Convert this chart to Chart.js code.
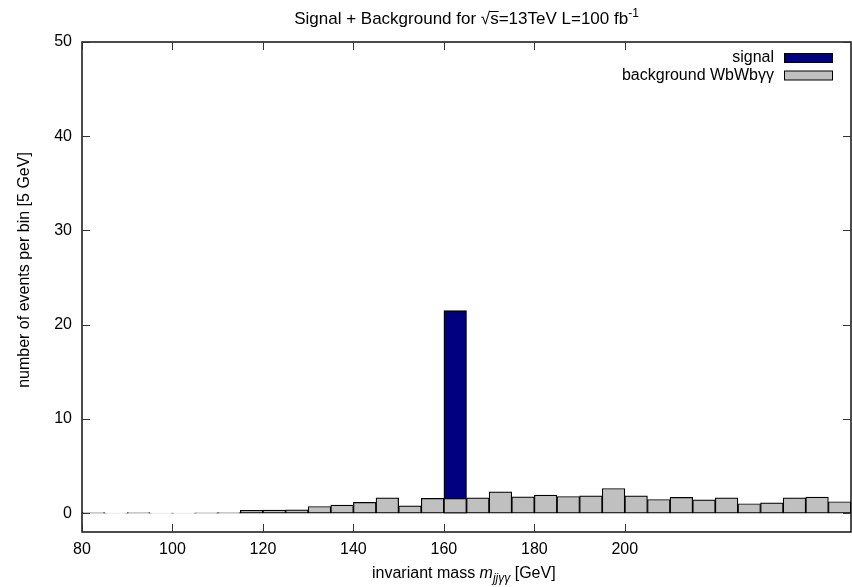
<!DOCTYPE html>
<html>
<head>
<meta charset="utf-8">
<script src="https://cdn.jsdelivr.net/npm/chart.js@4/dist/chart.umd.min.js"></script>
<style>
html, body { margin: 0; padding: 0; background: #fff; }
canvas { display: block; }
</style>
</head>
<body>
<canvas id="chart" width="852" height="587"></canvas>
<script>
// bin centres of the 5 GeV bins, 80..250 GeV
const binCenters = [82.5, 87.5, 92.5, 97.5, 102.5, 107.5, 112.5, 117.5, 122.5, 127.5,
  132.5, 137.5, 142.5, 147.5, 152.5, 157.5, 162.5, 167.5, 172.5, 177.5,
  182.5, 187.5, 192.5, 197.5, 202.5, 207.5, 212.5, 217.5, 222.5, 227.5,
  232.5, 237.5, 242.5, 247.5];
const background = [0.05, 0.02, 0.06, 0.02, 0.02, 0.04, 0.06, 0.29, 0.33, 0.36,
  0.71, 0.85, 1.14, 1.63, 0.78, 1.56, 1.56, 1.63, 2.27, 1.74,
  1.91, 1.77, 1.84, 2.62, 1.84, 1.45, 1.67, 1.42, 1.63, 1.00,
  1.10, 1.63, 1.70, 1.21];
const signalBins = [162.5];
const signalValues = [21.5];
const xTicks = [80, 100, 120, 140, 160, 180, 200];
const yTicks = [0, 10, 20, 30, 40, 50];

const FONT = '"Liberation Sans", Arial, Helvetica, sans-serif';
const canvas = document.getElementById("chart");
const ctx = canvas.getContext("2d");

// gnuplot style frame with inward ticks on all four sides, legend and labels
const gnuplotDecor = {
  id: "gnuplotDecor",
  afterDatasetsDraw(chart) {
    const { ctx, chartArea: a, scales } = chart;
    const tl = 8;
    ctx.save();
    ctx.strokeStyle = "#000";
    ctx.lineWidth = 1.4;
    ctx.strokeRect(a.left, a.top, a.right - a.left, a.bottom - a.top);
    ctx.strokeStyle = "#333";
    ctx.lineWidth = 1;
    ctx.beginPath();
    for (const v of xTicks) {
      const px = Math.round(scales.x.getPixelForValue(v)) + 0.5;
      ctx.moveTo(px, a.bottom); ctx.lineTo(px, a.bottom - tl);
      ctx.moveTo(px, a.top); ctx.lineTo(px, a.top + tl);
    }
    for (const v of yTicks) {
      const py = Math.round(scales.y.getPixelForValue(v)) + 0.5;
      ctx.moveTo(a.left, py); ctx.lineTo(a.left + tl, py);
      ctx.moveTo(a.right, py); ctx.lineTo(a.right - tl, py);
    }
    ctx.stroke();

    // legend: text right aligned, box on the right
    const items = chart.data.datasets.slice().reverse();
    ctx.font = "16px " + FONT;
    ctx.textAlign = "right";
    ctx.textBaseline = "middle";
    ctx.fillStyle = "#000";
    items.forEach((ds, i) => {
      const cy = 58 + i * 17.5;
      ctx.fillText(ds.label, 774, cy);
      ctx.fillStyle = ds.backgroundColor;
      ctx.fillRect(784, cy - 4.5, 49, 9);
      ctx.strokeStyle = "#000";
      ctx.lineWidth = 1;
      ctx.strokeRect(784.5, cy - 4.5, 48, 9);
      ctx.fillStyle = "#000";
    });

    // title with sqrt(s) and superscript
    const mid = (a.left + a.right) / 2;
    const big = "16px " + FONT;
    const tbig = "17px " + FONT, tsmall = "12px " + FONT;
    const parts = [
      ["Signal + Background for \u221A", tbig, 0],
      ["s", tbig, 0],
      ["=13TeV L=100 fb", tbig, 0],
      ["-1", tsmall, -7]
    ];
    let total = 0;
    for (const p of parts) { ctx.font = p[1]; total += ctx.measureText(p[0]).width; }
    let x = mid - total / 2;
    ctx.textAlign = "left";
    ctx.textBaseline = "alphabetic";
    parts.forEach((p, i) => {
      ctx.font = p[1];
      const w = ctx.measureText(p[0]).width;
      ctx.fillText(p[0], x, 24 + p[2]);
      if (i === 1) {
        ctx.beginPath();
        ctx.lineWidth = 1;
        ctx.strokeStyle = "#000";
        ctx.moveTo(x - 1, 11.5); ctx.lineTo(x + w, 11.5);
        ctx.stroke();
      }
      x += w;
    });

    // x axis title: invariant mass m_{jjγγ} [GeV]
    const xparts = [
      ["invariant mass ", big, 0],
      ["m", "italic 16px " + FONT, 0],
      ["jj\u03B3\u03B3", "italic 12px " + FONT, 4],
      [" [GeV]", big, 0]
    ];
    x = 372;
    for (const p of xparts) {
      ctx.font = p[1];
      ctx.fillText(p[0], x, 578 + p[2]);
      x += ctx.measureText(p[0]).width;
    }

    // y axis title
    ctx.translate(25, 270);
    ctx.rotate(-Math.PI / 2);
    ctx.font = big;
    ctx.textAlign = "center";
    ctx.textBaseline = "middle";
    ctx.fillText("number of events per bin [5 GeV]", 0, 0);
    ctx.restore();
  }
};

const barStyle = {
  borderColor: "#000",
  borderWidth: 1.2,
  borderSkipped: false,
  grouped: false,
  barPercentage: 1,
  categoryPercentage: 1
};

new Chart(ctx, {
  type: "bar",
  data: {
    datasets: [
      Object.assign({
        label: "background WbWb\u03B3\u03B3",
        data: binCenters.map((x, i) => ({ x: x, y: background[i] })),
        backgroundColor: "#c0c0c0"
      }, barStyle),
      Object.assign({
        label: "signal",
        data: signalBins.map((x, i) => ({ x: x, y: signalValues[i] })),
        backgroundColor: "#000080"
      }, barStyle)
    ]
  },
  options: {
    responsive: false,
    animation: false,
    layout: { padding: { top: 42, right: 1, left: 0, bottom: 0 } },
    plugins: {
      legend: { display: false },
      title: { display: false },
      tooltip: { enabled: false }
    },
    scales: {
      x: {
        type: "linear",
        min: 80,
        max: 250,
        offset: false,
        afterBuildTicks: (s) => { s.ticks = xTicks.map((v) => ({ value: v })); },
        afterFit: (s) => { s.height = 55; },
        grid: { display: false, drawTicks: false },
        border: { display: false },
        ticks: { padding: 8, color: "#000", maxRotation: 0, autoSkip: false, font: { family: FONT, size: 16 } }
      },
      y: {
        min: -2,
        max: 50,
        afterBuildTicks: (s) => { s.ticks = yTicks.map((v) => ({ value: v })); },
        afterFit: (s) => { s.width = 82; },
        grid: { display: false, drawTicks: false },
        border: { display: false },
        ticks: { padding: 10, color: "#000", font: { family: FONT, size: 16 } }
      }
    }
  },
  plugins: [gnuplotDecor]
});
</script>
</body>
</html>
